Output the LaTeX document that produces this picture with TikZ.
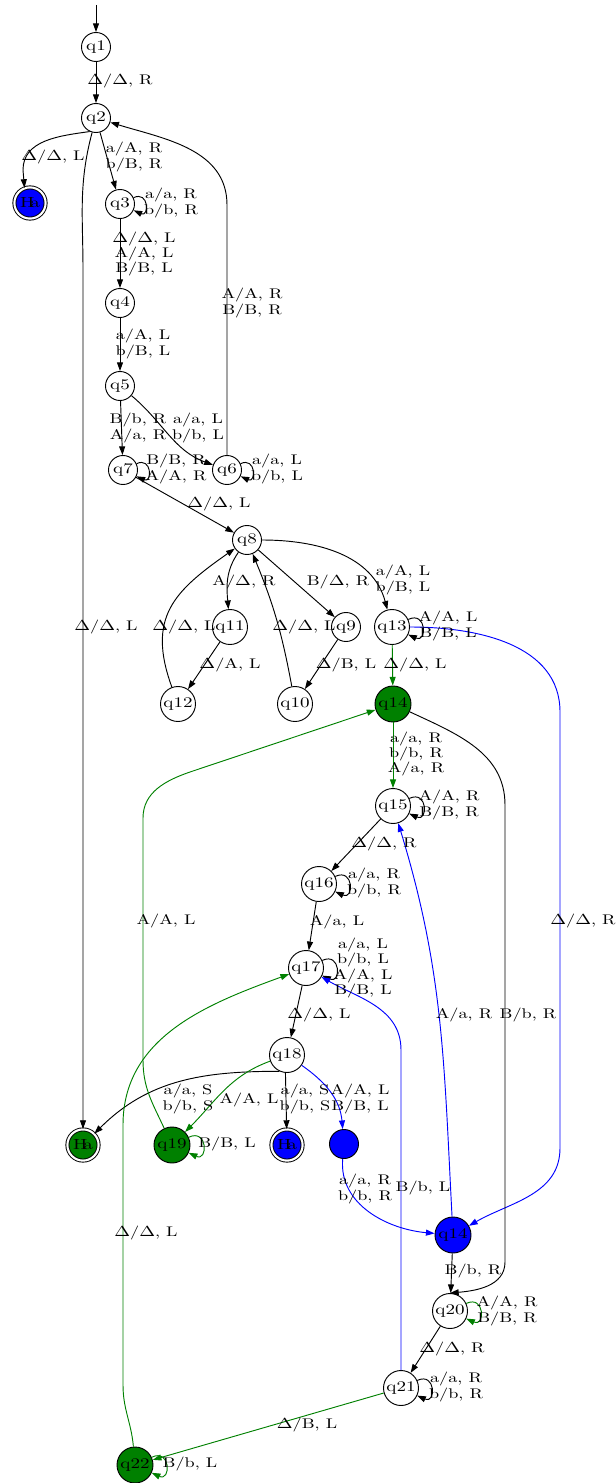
\documentclass[tikz,border=0pt]{standalone}
\usepackage{fontspec}
\setmainfont{lmroman10-regular.otf}[FakeStretch=1.3]
\usetikzlibrary{arrows.meta}
\definecolor{HaltGreen}{HTML}{008000}
\definecolor{PathBlue}{HTML}{0000FF}
\newcommand{\Dl}{\scalebox{1.3}[1]{$\Delta$}}

\begin{document}
\begin{tikzpicture}[
x=0.75pt,y=-0.75pt,
line width=0.7pt,
st/.style={draw,circle,fill=white,inner sep=0pt,minimum size=21.75pt,font=\fontsize{11}{11}\selectfont},
wide/.style={st,minimum size=26.25pt},
grn/.style={st,minimum size=27pt,fill=HaltGreen},
blu/.style={st,minimum size=27pt,fill=PathBlue},
halt/.style={st,minimum size=23.4pt,double,double distance=1.6pt},
lbl/.style={font=\fontsize{10.5}{9.75}\selectfont,align=center,inner sep=0pt},
arr/.style={-{Triangle[length=6.5pt,width=4.5pt]}},
sl/.style={arr,out=25,in=-25,looseness=3.5}
]
\useasboundingbox (0,0) rectangle (615,1483);

\node[st] (q1) at (96,47) {q1};
\node[st] (q2) at (96,118) {q2};
\node[halt,fill=PathBlue] (ha1) at (30,203) {H\kern-3pt a};
\node[st] (q3) at (120,204) {q3};
\node[st] (q4) at (120,303) {q4};
\node[st] (q5) at (120,386) {q5};
\node[st] (q7) at (123,470) {q7};
\node[st] (q6) at (227,470) {q6};
\node[st] (q8) at (247,540) {q8};
\node[wide] (q11) at (230,627) {q11};
\node[st] (q9) at (346,627) {q9};
\node[wide] (q13) at (392,627) {q13};
\node[wide] (q12) at (178,704) {q12};
\node[wide] (q10) at (295,704) {q10};
\node[grn] (q14g) at (393,704) {q14};
\node[wide] (q15) at (393,806) {q15};
\node[wide] (q16) at (319,884) {q16};
\node[wide] (q17) at (306,968) {q17};
\node[wide] (q18) at (287,1055) {q18};
\node[halt,fill=HaltGreen] (hag) at (83,1145) {H\kern-3pt a};
\node[grn] (q19) at (172,1145) {q19};
\node[halt,fill=PathBlue] (hab) at (287,1145) {H\kern-3pt a};
\node[st,fill=PathBlue] (bdot) at (344,1144) {};
\node[blu] (q14b) at (453,1235) {q14};
\node[wide] (q20) at (450,1311) {q20};
\node[wide] (q21) at (401,1388) {q21};
\node[grn] (q22) at (135,1465) {q22};

% transitions
\coordinate (s0) at (96,5);
\draw[arr] (s0) -- (q1);
\draw[arr] (q1) -- (q2);
\draw[arr] (q2.245) to[out=188,in=90] (23,170) -- (ha1.110);
\draw[arr] (q2) -- (q3);
\draw[sl] (q3) to (q3);
\draw[arr] (q3) -- (q4);
\draw[arr] (q4) -- (q5);
\draw[arr] (q5) -- (q7);
\draw[arr] (q5) to[out=-40,in=160] (q6);
\draw[sl] (q7) to (q7);
\draw[sl] (q6) to (q6);
\draw[arr] (q6) -- (227,205) to[out=90,in=-17] (q2);
\draw[arr] (q7) -- (q8);
\draw[arr] (q8) to[out=235,in=95] (q11);
\draw[arr] (q8) -- (q9);
\draw[arr] (q8) to[out=0,in=105] (q13);
\draw[arr] (q11) -- (q12);
\draw[arr] (q12) to[out=110,in=215,looseness=1.25] (q8);
\draw[arr] (q9) -- (q10);
\draw[arr] (q10) to[bend right=6] (q8);
\draw[sl] (q13) to (q13);
\draw[arr,HaltGreen] (q13) -- (q14g);
\draw[arr,PathBlue] (q13) to[out=0,in=90] (560,712) -- (560,1148) to[out=-90,in=30] (q14b);
\draw[arr,HaltGreen] (q14g) -- (q15);
\draw[arr] (q14g) to[out=-25,in=90] (505,805) -- (505,1262) to[out=-90,in=5] (q20.north);
\draw[sl] (q15) to (q15);
\draw[arr] (q15) -- (q16);
\draw[sl] (q16) to (q16);
\draw[arr] (q16) -- (q17);
\draw[sl] (q17) to (q17);
\draw[arr] (q17) -- (q18);
\draw[arr] (q18.245) to[out=180,in=45] (hag);
\draw[arr,HaltGreen] (q18) to[out=200,in=45] (q19);
\draw[sl,HaltGreen] (q19) to (q19);
\draw[arr] (q18.265) -- (hab);
\draw[arr,PathBlue] (q18) to[out=-35,in=95] (bdot);
\draw[arr,PathBlue] (bdot) to[out=-95,in=175] (q14b);
\draw[arr,PathBlue] (q14b) to[out=93,in=-73] (q15);
\draw[arr,PathBlue] (q21) -- (401,1050) to[out=90,in=-30] (q17);
\draw[arr] (q14b) -- (q20);
\draw[sl,HaltGreen] (q20) to (q20);
\draw[arr] (q20) -- (q21);
\draw[sl] (q21) to (q21);
\draw[arr,HaltGreen] (q21) -- (q22);
\draw[sl,HaltGreen] (q22) to (q22);
\draw[arr,HaltGreen] (q22) to[out=95,in=-90] (123,1385) -- (123,1125) to[out=90,in=200] (q17);
\draw[arr,HaltGreen] (q19) to[out=115,in=-90] (143,1060) -- (143,818) to[out=90,in=199] (190,772) -- (q14g);
\draw[arr] (q2.255) to[out=255,in=90] (83,270) -- (hag);

% labels
\node[lbl] (t1) at (120,81) {\Dl/\Dl, R};
\node[lbl] (t2) at (53,157) {\Dl/\Dl, L};
\node[lbl] (t3) at (134,157) {a/A, R\\b/B, R};
\node[lbl] (t4) at (171,203) {a/a, R\\b/b, R};
\node[lbl] (t5) at (144,254) {\Dl/\Dl, L\\A/A, L\\B/B, L};
\node[lbl] (t6) at (143,344) {a/A, L\\b/B, L};
\node[lbl] (t7) at (138,428) {B/b, R\\A/a, R};
\node[lbl] (t8) at (198,428) {a/a, L\\b/b, L};
\node[lbl] (t9) at (176,469) {B/B, R\\A/A, R};
\node[lbl] (t10) at (277,469) {a/a, L\\b/b, L};
\node[lbl] (t11) at (252,303) {A/A, R\\B/B, R};
\node[lbl] (t12) at (219,504) {\Dl/\Dl, L};
\node[lbl] (t13) at (244,582) {A/\Dl, R};
\node[lbl] (t14) at (338,582) {B/\Dl, R};
\node[lbl] (t15) at (403,580) {a/A, L\\b/B, L};
\node[lbl] (t16) at (230,665) {\Dl/A, L};
\node[lbl] (t17) at (184,627) {\Dl/\Dl, L};
\node[lbl] (t18) at (346,665) {\Dl/B, L};
\node[lbl] (t19) at (304,627) {\Dl/\Dl, L};
\node[lbl] (t20) at (448,626) {A/A, L\\B/B, L};
\node[lbl] (t21) at (415,665) {\Dl/\Dl, L};
\node[lbl] (t22) at (583,921) {\Dl/\Dl, R};
\node[lbl] (t23) at (416,754) {a/a, R\\b/b, R\\A/a, R};
\node[lbl] (t24) at (528,1015) {B/b, R};
\node[lbl] (t25) at (449,805) {A/A, R\\B/B, R};
\node[lbl] (t26) at (384,844) {\Dl/\Dl, R};
\node[lbl] (t27) at (374,883) {a/a, R\\b/b, R};
\node[lbl] (t28) at (337,922) {A/a, L};
\node[lbl] (t29) at (363,968) {a/a, L\\b/b, L\\A/A, L\\B/B, L};
\node[lbl] (t30) at (319,1015) {\Dl/\Dl, L};
\node[lbl] (t31) at (188,1099) {a/a, S\\b/b, S};
\node[lbl] (t32) at (249,1100) {A/A, L};
\node[lbl] (t33) at (227,1144) {B/B, L};
\node[lbl] (t34) at (305,1099) {a/a, S\\b/b, S};
\node[lbl] (t35) at (360,1099) {A/A, L\\B/B, L};
\node[lbl] (t36) at (365,1189) {a/a, R\\b/b, R};
\node[lbl] (t37) at (464,1015) {A/a, R};
\node[lbl] (t38) at (423,1188) {B/b, L};
\node[lbl] (t39) at (473,1271) {B/b, R};
\node[lbl] (t40) at (507,1311) {A/A, R\\B/B, R};
\node[lbl] (t41) at (452,1349) {\Dl/\Dl, R};
\node[lbl] (t42) at (456,1387) {a/a, R\\b/b, R};
\node[lbl] (t43) at (307,1425) {\Dl/B, L};
\node[lbl] (t44) at (190,1464) {B/b, L};
\node[lbl] (t45) at (146,1233) {\Dl/\Dl, L};
\node[lbl] (t46) at (166,921) {A/A, L};
\node[lbl] (t47) at (106,627) {\Dl/\Dl, L};
\end{tikzpicture}
\end{document}
